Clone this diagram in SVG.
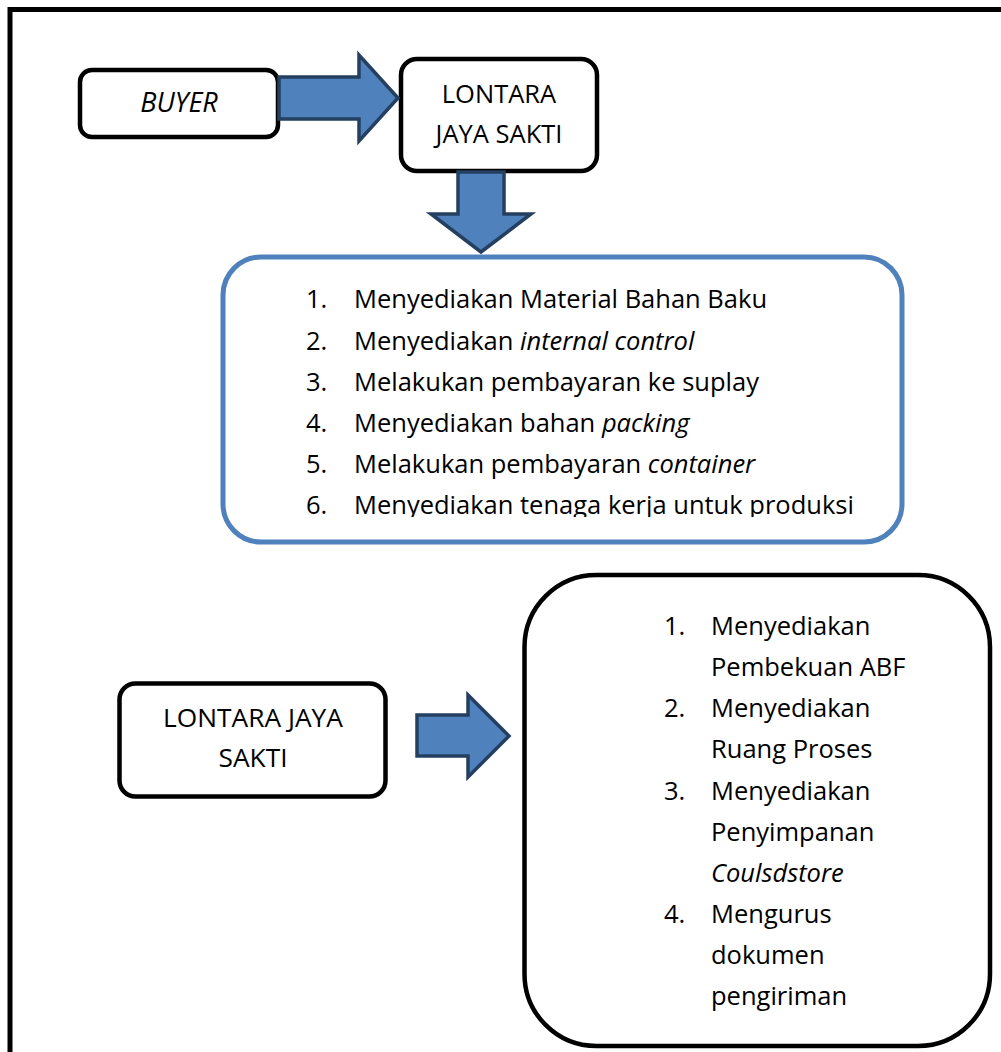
<svg xmlns="http://www.w3.org/2000/svg" width="1001" height="1052" viewBox="0 0 1001 1052">
<style>
  text { font-family: "Open Sans", "Noto Sans", "Liberation Sans", sans-serif; font-size: 25.5px; fill: #000; }
  .c { text-anchor: middle; }
  .i { font-style: italic; }
  .box { fill: #fff; stroke: #000; stroke-width: 4.5; }
  .bluebox { fill: #fff; stroke: #4F81BD; stroke-width: 5; }
  .arrow { fill: #4F81BD; stroke: #243F60; stroke-width: 3.5; stroke-linejoin: miter; }
</style>
<defs>
  <clipPath id="clipList"><rect x="223" y="257" width="679" height="260"/></clipPath>
</defs>
<rect x="0" y="0" width="1001" height="1052" fill="#fff"/>
<path d="M10,1052 V9.5 H1001" fill="none" stroke="#000" stroke-width="5"/>

<g id="buyer">
  <rect class="box" x="80" y="70" width="198" height="67" rx="12"/>
  <text class="c i" x="179" y="112" style="font-size:27px">BUYER</text>
</g>

<g id="lontara-top">
  <rect class="box" x="401" y="59" width="196" height="112" rx="16"/>
  <text class="c" x="499" y="103">LONTARA</text>
  <text class="c" x="499" y="143">JAYA SAKTI</text>
</g>

<g id="tasks-top">
  <rect class="bluebox" x="223" y="257" width="679" height="285" rx="38"/>
  <g clip-path="url(#clipList)">
    <text x="306" y="308">1.</text><text x="354" y="308">Menyediakan Material Bahan Baku</text>
    <text x="306" y="349.5">2.</text><text x="354" y="349.5">Menyediakan <tspan class="i">internal control</tspan></text>
    <text x="306" y="391">3.</text><text x="354" y="391">Melakukan pembayaran ke suplay</text>
    <text x="306" y="432">4.</text><text x="354" y="432">Menyediakan bahan <tspan class="i">packing</tspan></text>
    <text x="306" y="473">5.</text><text x="354" y="473">Melakukan pembayaran <tspan class="i">container</tspan></text>
    <text x="306" y="514">6.</text><text x="354" y="514">Menyediakan tenaga kerja untuk produksi</text>
  </g>
</g>

<g id="lontara-bottom">
  <rect class="box" x="119.5" y="683.5" width="266" height="113" rx="16"/>
  <text class="c" x="253" y="727" style="font-size:26.3px">LONTARA JAYA</text>
  <text class="c" x="253" y="767" style="font-size:26.3px">SAKTI</text>
</g>

<g id="tasks-bottom">
  <rect class="box" x="524.5" y="575" width="465.5" height="471" rx="72"/>
  <text x="664" y="635">1.</text><text x="711" y="635">Menyediakan</text>
  <text x="711" y="676">Pembekuan ABF</text>
  <text x="664" y="717">2.</text><text x="711" y="717">Menyediakan</text>
  <text x="711" y="758">Ruang Proses</text>
  <text x="664" y="800">3.</text><text x="711" y="800">Menyediakan</text>
  <text x="711" y="841">Penyimpanan</text>
  <text x="711" y="882" class="i">Coulsdstore</text>
  <text x="664" y="923">4.</text><text x="711" y="923">Mengurus</text>
  <text x="711" y="964">dokumen</text>
  <text x="711" y="1005">pengiriman</text>
</g>

<g id="connectors">
  <polygon class="arrow" points="279,77 359,77 359,55 398,98 359,141 359,119 279,119"/>
  <polygon class="arrow" points="458,172 504,172 504,214 531,214 481,252 431,214 458,214"/>
  <polygon class="arrow" points="417,715 468,715 468,695 509,736 468,777 468,756 417,756"/>
</g>
</svg>
